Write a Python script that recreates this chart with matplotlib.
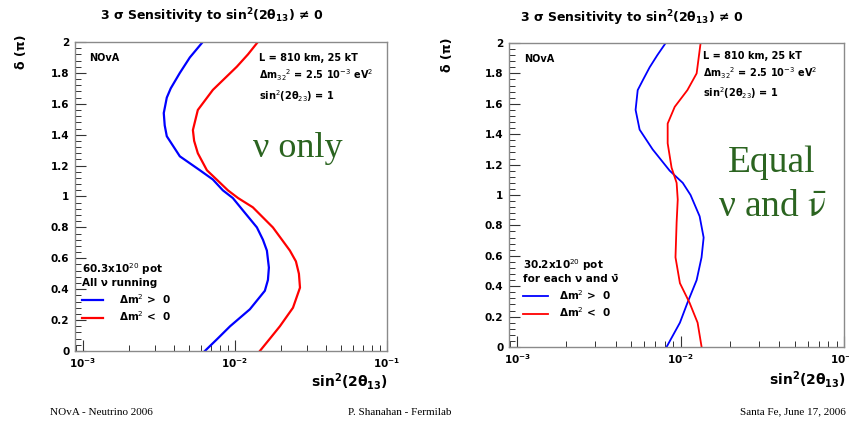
import matplotlib
matplotlib.use("Agg")
import matplotlib.pyplot as plt
from matplotlib.ticker import FixedLocator, MultipleLocator, LogLocator, NullFormatter

# ---------------- data ----------------
# left panel: nu only
delta_bl = [2.0, 1.90, 1.80, 1.70, 1.64, 1.54, 1.46, 1.39, 1.26, 1.17, 1.11, 1.04, 0.99, 0.91, 0.80,
            0.72, 0.65, 0.54, 0.46, 0.39, 0.27, 0.16, 0.08, 0.0]
s2_bl = [0.00615, 0.00506, 0.00435, 0.00379, 0.00357, 0.00341, 0.00346, 0.00357, 0.00435, 0.00589,
         0.00717, 0.00834, 0.0097, 0.0113, 0.01396, 0.0153, 0.01624, 0.01674, 0.0165, 0.01575,
         0.01255, 0.0093, 0.0077, 0.00635]
delta_rl = [2.0, 1.92, 1.84, 1.69, 1.56, 1.43, 1.36, 1.28, 1.17, 1.09, 1.04, 0.99, 0.93, 0.80, 0.72,
            0.65, 0.58, 0.50, 0.41, 0.28, 0.16, 0.08, 0.0]
s2_rl = [0.01416, 0.0122, 0.0103, 0.00717, 0.00571, 0.0053, 0.0054, 0.00571, 0.00655, 0.00797,
         0.0090, 0.0105, 0.01313, 0.01778, 0.0204, 0.023, 0.0252, 0.02637, 0.0268, 0.0241,
         0.01977, 0.0170, 0.0146]

# right panel: equal nu and nubar
delta_br = [2.0, 1.92, 1.84, 1.76, 1.69, 1.56, 1.43, 1.30, 1.16, 1.08, 1.0, 0.86, 0.72, 0.59, 0.44,
            0.29, 0.16, 0.0]
s2_br = [0.0081, 0.0072, 0.00646, 0.0059, 0.00546, 0.0053, 0.00561, 0.00674, 0.00857, 0.0103,
         0.0115, 0.01307, 0.01383, 0.01343, 0.01253, 0.0110, 0.0099, 0.0082]
delta_rr = [2.0, 1.80, 1.69, 1.58, 1.47, 1.34, 1.18, 1.08, 0.97, 0.82, 0.59, 0.42, 0.29, 0.16, 0.0]
s2_rr = [0.01325, 0.01253, 0.0110, 0.0092, 0.00833, 0.00833, 0.0088, 0.00945, 0.0096, 0.00945,
         0.0093, 0.0099, 0.01135, 0.0127, 0.01344]

xticks = [1e-3, 1e-2, 1e-1]
xticklabels = [r"$\mathbf{10^{-3}}$", r"$\mathbf{10^{-2}}$", r"$\mathbf{10^{-1}}$"]

title = r"3 σ Sensitivity to sin$^\mathbf{2}$(2θ$_\mathbf{13}$) ≠ 0"
xlabel = r"sin$^\mathbf{2}$(2θ$_\mathbf{13}$)"
green = "#2b6420"
frame = "#8a8a8a"

fig = plt.figure(figsize=(8.49, 4.23), dpi=100)
W, H = 849, 423


def make_ax(l, r, t, b):
    ax = fig.add_axes([l / W, 1 - b / H, (r - l) / W, (b - t) / H])
    ax.set_xscale("log")
    ax.set_xlim(8.9e-4, 0.1)
    ax.set_ylim(0, 2)
    for s in ax.spines.values():
        s.set_color(frame)
        s.set_linewidth(1.0)
    ax.xaxis.set_major_locator(FixedLocator(xticks))
    ax.set_xticklabels(xticklabels)
    ax.xaxis.set_minor_locator(LogLocator(base=10, subs=range(2, 10)))
    ax.xaxis.set_minor_formatter(NullFormatter())
    ax.yaxis.set_major_locator(MultipleLocator(0.2))
    ax.yaxis.set_minor_locator(MultipleLocator(0.04))
    ax.yaxis.set_major_formatter(plt.FuncFormatter(lambda v, p: "%g" % round(v, 1)))
    ax.tick_params(which="both", direction="in", top=False, right=False, colors="#333333",
                   labelcolor="black")
    ax.tick_params(which="major", length=8, width=0.8, labelsize=7.5, pad=4)
    ax.tick_params(which="minor", length=4, width=0.7)
    for lab in ax.get_yticklabels():
        lab.set_fontweight("bold")
    return ax


# ---------------- left panel ----------------
ax1 = make_ax(75, 387, 42, 351)
ax1.plot(s2_bl, delta_bl, color="blue", lw=1.6, label="Δm$^2$ >  0")
ax1.plot(s2_rl, delta_rl, color="red", lw=1.6, label="Δm$^2$ <  0")
leg = ax1.legend(title="60.3x10$^{20}$ pot\nAll ν running", loc="upper left",
                 bbox_to_anchor=(0.01, 0.305), frameon=False, fontsize=7.5,
                 title_fontsize=7.5, handlelength=2.0, handletextpad=1.5,
                 labelspacing=0.35, alignment="left", borderaxespad=0)
leg.get_title().set_fontweight("bold")
for t in leg.get_texts():
    t.set_fontweight("bold")
ax1.text(0.045, 0.965, "NOvA", transform=ax1.transAxes, fontsize=7, fontweight="bold", va="top")
ax1.text(0.59, 0.965, "L = 810 km, 25 kT\nΔm$_{32}$$^2$ = 2.5 10$^{-3}$ eV$^2$\nsin$^2$(2θ$_{23}$) = 1",
         transform=ax1.transAxes, fontsize=7, fontweight="bold", va="top", linespacing=1.4)
ax1.text(0.715, 0.655, "ν only", transform=ax1.transAxes, fontsize=26, color=green,
         family="Liberation Serif", ha="center", va="center")
fig.text(212 / W, 1 - 16 / H, title, ha="center", va="center", fontsize=9, fontweight="bold")
fig.text(22 / W, 1 - 52 / H, "δ (π)", rotation=90, ha="center", va="center", fontsize=9,
         fontweight="bold")
fig.text(388 / W, 1 - 382 / H, xlabel, ha="right", va="center", fontsize=10, fontweight="bold")

# ---------------- right panel ----------------
ax2 = make_ax(509, 844, 43, 347)
ax2.plot(s2_br, delta_br, color="blue", lw=1.3, label="Δm$^2$ >  0")
ax2.plot(s2_rr, delta_rr, color="red", lw=1.3, label="Δm$^2$ <  0")
leg2 = ax2.legend(title="30.2x10$^{20}$ pot\nfor each ν and ν\u0304", loc="upper left",
                  bbox_to_anchor=(0.03, 0.31), frameon=False, fontsize=7.5,
                  title_fontsize=7.5, handlelength=2.4, handletextpad=1.0,
                  labelspacing=0.35, alignment="left", borderaxespad=0)
leg2.get_title().set_fontweight("bold")
for t in leg2.get_texts():
    t.set_fontweight("bold")
ax2.text(0.045, 0.965, "NOvA", transform=ax2.transAxes, fontsize=7, fontweight="bold", va="top")
ax2.text(0.58, 0.975, "L = 810 km, 25 kT\nΔm$_{32}$$^2$ = 2.5 10$^{-3}$ eV$^2$\nsin$^2$(2θ$_{23}$) = 1",
         transform=ax2.transAxes, fontsize=7, fontweight="bold", va="top", linespacing=1.4)
ax2.text(0.785, 0.605, "Equal", transform=ax2.transAxes, fontsize=27, color=green,
         family="Liberation Serif", ha="center", va="center")
ax2.text(0.785, 0.46, r"ν and $\bar{\mathrm{\nu}}$", transform=ax2.transAxes, fontsize=27,
         color=green, family="Liberation Serif", math_fontfamily="stix", ha="center", va="center")
fig.text(632 / W, 1 - 18 / H, title, ha="center", va="center", fontsize=9, fontweight="bold")
fig.text(448 / W, 1 - 55 / H, "δ (π)", rotation=90, ha="center", va="center", fontsize=9,
         fontweight="bold")
fig.text(846 / W, 1 - 380 / H, xlabel, ha="right", va="center", fontsize=10, fontweight="bold")

# ---------------- footer ----------------
fig.text(50 / W, 1 - 412 / H, "NOvA - Neutrino 2006", fontsize=8, family="Liberation Serif", va="center")
fig.text(400 / W, 1 - 412 / H, "P. Shanahan - Fermilab", fontsize=8, family="Liberation Serif",
         va="center", ha="center")
fig.text(846 / W, 1 - 412 / H, "Santa Fe, June 17, 2006", fontsize=8, family="Liberation Serif",
         va="center", ha="right")

fig.savefig("out.png", dpi=100)
